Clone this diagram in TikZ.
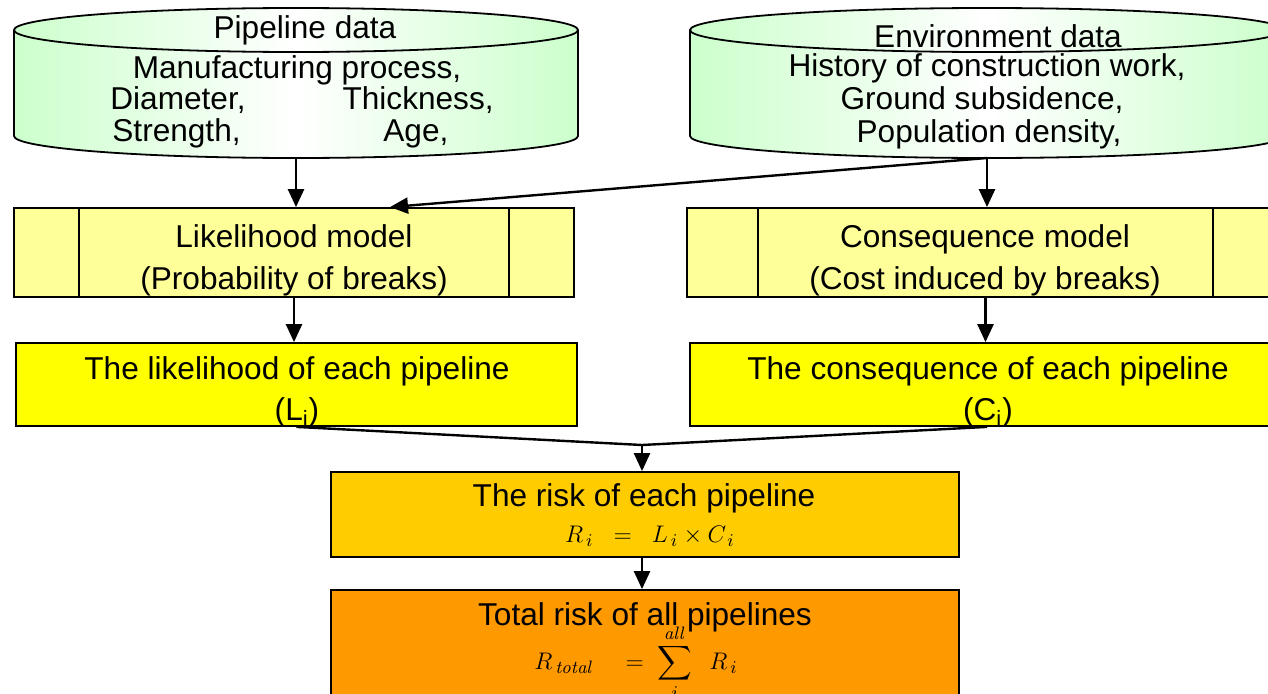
\documentclass[tikz,border=0pt]{standalone}
\usepackage[no-math]{fontspec}
\setmainfont{Liberation Sans}
\usepackage{amsmath}
\usetikzlibrary{arrows.meta}
\definecolor{cylgreen}{HTML}{CCFFCC}
\definecolor{modelyellow}{HTML}{FFFF99}
\definecolor{pipeyellow}{HTML}{FFFF00}
\definecolor{riskorange}{HTML}{FFCC00}
\definecolor{totalorange}{HTML}{FF9900}
\tikzstyle{arr}=[line width=1.2pt,-{Triangle[length=9pt,width=8pt]}]
\tikzstyle{box}=[draw=black,line width=0.9pt,inner sep=0pt]
\tikzstyle{txt}=[inner sep=0pt,font=\fontsize{15.8}{15.5}\selectfont]
\tikzstyle{eq}=[inner sep=0pt,font=\fontsize{12.5}{12.5}\selectfont]

\begin{document}
\begin{tikzpicture}[x=0.5pt,y=0.5pt]
\useasboundingbox (0,0) rectangle (1268,693);
\clip (0,0) rectangle (1268,693);
% data stores
\foreach \n/\cx/\rx in {pipe/296/282, env/987/297} {
 \fill[left color=cylgreen,right color=cylgreen,middle color=white]
   (\cx-\rx,663) -- (\cx-\rx,557) arc[start angle=180,end angle=360,x radius=\rx,y radius=22]
   -- (\cx+\rx,663) arc[start angle=0,end angle=180,x radius=\rx,y radius=22] -- cycle;
 \draw[line width=0.9pt] (\cx-\rx,663) -- (\cx-\rx,557)
   arc[start angle=180,end angle=360,x radius=\rx,y radius=22] -- (\cx+\rx,663);
 \draw[line width=0.9pt] (\cx,663) ellipse[x radius=\rx,y radius=22];
 \coordinate (\n) at (\cx,535);
}
\node[txt,anchor=base] (pipetitle) at (305,655) {Pipeline data};
\node[txt,anchor=base] (pipeA) at (297,615) {Manufacturing process,};
\node[txt,anchor=base west] (pipeB) at (110,584) {Diameter,};
\node[txt,anchor=base east] (pipeC) at (494,584) {Thickness,};
\node[txt,anchor=base west] (pipeD) at (112,552) {Strength,};
\node[txt,anchor=base west] (pipeE) at (383,552) {Age,};
\node[txt,anchor=base] (envtitle) at (998,646) {Environment data};
\node[txt,anchor=base] (envA) at (987,617) {History of construction work,};
\node[txt,anchor=base] (envB) at (982,584) {Ground subsidence,};
\node[txt,anchor=base] (envC) at (989,551) {Population density,};

% models
\node[box,fill=modelyellow,minimum width=280pt,minimum height=44.5pt] (lmodel) at (294,440.5) {};
\node[box,fill=modelyellow,minimum width=298.5pt,minimum height=44.5pt] (cmodel) at (985.5,440.5) {};
\draw[line width=0.9pt] ([xshift=33pt]lmodel.north west) -- ([xshift=33pt]lmodel.south west);
\draw[line width=0.9pt] ([xshift=-33pt]lmodel.north east) -- ([xshift=-33pt]lmodel.south east);
\draw[line width=0.9pt] ([xshift=36pt]cmodel.north west) -- ([xshift=36pt]cmodel.south west);
\draw[line width=0.9pt] ([xshift=-36pt]cmodel.north east) -- ([xshift=-36pt]cmodel.south east);
\node[txt,anchor=base] (lmodelA) at (294,446) {Likelihood model};
\node[txt,anchor=base] (lmodelB) at (294,404) {(Probability of breaks)};
\node[txt,anchor=base] (cmodelA) at (985,446) {Consequence model};
\node[txt,anchor=base] (cmodelB) at (985,404) {(Cost induced by breaks)};

% per pipeline
\node[box,fill=pipeyellow,minimum width=280.5pt,minimum height=41.5pt] (lbox) at (296.5,308.5) {};
\node[box,fill=pipeyellow,minimum width=297pt,minimum height=41.5pt] (cbox) at (987,308.5) {};
\node[txt,anchor=base] (lboxA) at (297,314) {The likelihood of each pipeline};
\node[txt,anchor=base] (lboxB) at (297,273) {(L\textsubscript{i})};
\node[txt,anchor=base] (cboxA) at (988,314) {The consequence of each pipeline};
\node[txt,anchor=base] (cboxB) at (988,273) {(C\textsubscript{i})};

% risk
\node[box,fill=riskorange,minimum width=314pt,minimum height=42.5pt] (risk) at (645,178.5) {};
\node[txt,anchor=base] (riskA) at (644,187) {The risk of each pipeline};
\node[eq] (riskB) at (650,157) {$R_{\,i}\;\;=\;\;L_{\,i}\times C_{\,i}$};
\node[box,fill=totalorange,minimum width=314pt,minimum height=57.5pt] (total) at (645,45.5) {};
\node[txt,anchor=base] (totalA) at (645,68) {Total risk of all pipelines};
\node[eq] (totalB) at (636,30) {$R_{\,\mathit{total}}\quad=\;\displaystyle\sum_{i}^{\mathit{all}}\;\;R_{\,i}$};

% flows
\coordinate (join) at (642,248);
\draw[arr] (pipe) -- (pipe |- lmodel.north);
\draw[arr] (env) -- (env |- cmodel.north);
\draw[arr] (env) -- ([xshift=48pt]lmodel.north);
\draw[arr] (lmodel.south) -- (lmodel.south |- lbox.north);
\draw[arr] (cmodel.south) -- (cmodel.south |- cbox.north);
\draw[line width=1.2pt] (lbox.south) -- (join) -- (cbox.south);
\draw[arr] (join) -- (join |- risk.north);
\draw[arr] (join |- risk.south) -- (join |- total.north);
\end{tikzpicture}
\end{document}
